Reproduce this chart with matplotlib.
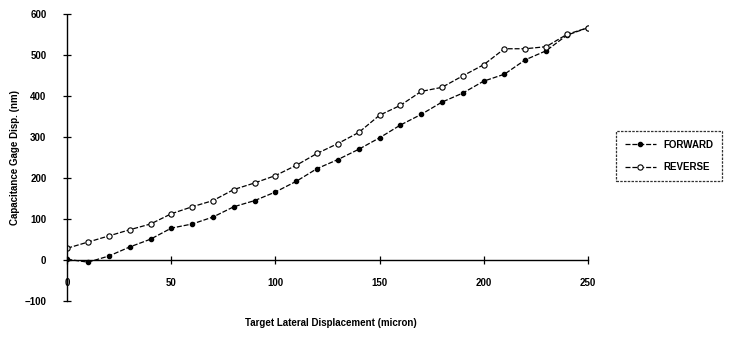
import matplotlib
matplotlib.use('Agg')
import matplotlib.pyplot as plt

plt.rcParams['font.family'] = ['Liberation Sans', 'DejaVu Sans']
plt.rcParams['font.weight'] = 'bold'

# target lateral displacement (micron) and gage reading (nm)
displacement = [0, 10, 20, 30, 40, 50, 60, 70, 80, 90, 100, 110, 120,
                130, 140, 150, 160, 170, 180, 190, 200, 210, 220, 230, 240, 250]
forward = [2, -5, 10, 32, 51, 78, 88, 105, 130, 145, 166, 192, 223,
           245, 270, 298, 329, 355, 385, 407, 436, 453, 488, 510, 548, 566]
reverse = [29, 44, 59, 74, 88, 113, 130, 145, 172, 188, 206, 231, 260,
           284, 311, 353, 377, 411, 421, 449, 476, 515, 515, 520, 550, 566]

x_ticks = [0, 50, 100, 150, 200, 250]
y_ticks = [-100, 0, 100, 200, 300, 400, 500, 600]

fig = plt.figure(figsize=(7.31, 3.38), dpi=100)
ax = fig.add_axes([0.092, 0.109, 0.712, 0.850])

dash = (0, (4, 1.5))
ax.plot(displacement, forward, color='black', lw=0.9, linestyle=dash,
        marker='o', ms=3.0, mfc='black', mec='black', label='FORWARD')
ax.plot(displacement, reverse, color='black', lw=0.9, linestyle=dash,
        marker='o', ms=3.8, mfc='white', mec='black', mew=0.8, label='REVERSE')

ax.set_xlim(0, 250)
ax.set_ylim(-100, 600)
ax.set_xticks(x_ticks)
ax.set_yticks(y_ticks)

for side in ('top', 'right'):
    ax.spines[side].set_visible(False)
ax.spines['bottom'].set_position(('data', 0))
ax.spines['bottom'].set_linestyle((0, (1.5, 1)))
ax.spines['left'].set_linestyle((0, (1.5, 1)))
for side in ('bottom', 'left'):
    ax.spines[side].set_linewidth(1.0)
    ax.spines[side].set_clip_on(False)

ax.tick_params(axis='both', direction='inout', length=6, width=0.9,
               labelsize=7)
ax.tick_params(axis='x', pad=10)
ax.tick_params(axis='y', pad=12)

ax.set_ylabel('Capacitance Gage Disp. (nm)', fontsize=7, fontweight='bold')
ax.yaxis.set_label_coords(-0.090, 0.5)
fig.text(0.452, 0.035, 'Target Lateral Displacement (micron)', ha='center',
         fontsize=7, fontweight='bold')

leg = fig.legend(loc='upper left', bbox_to_anchor=(0.836, 0.627),
                 fontsize=7, frameon=True, fancybox=False, handlelength=3.2,
                 borderpad=0.9, labelspacing=1.3)
leg.get_frame().set_edgecolor('black')
leg.get_frame().set_linestyle((0, (2, 1)))
leg.get_frame().set_linewidth(0.9)

fig.savefig('out.png', dpi=100)
